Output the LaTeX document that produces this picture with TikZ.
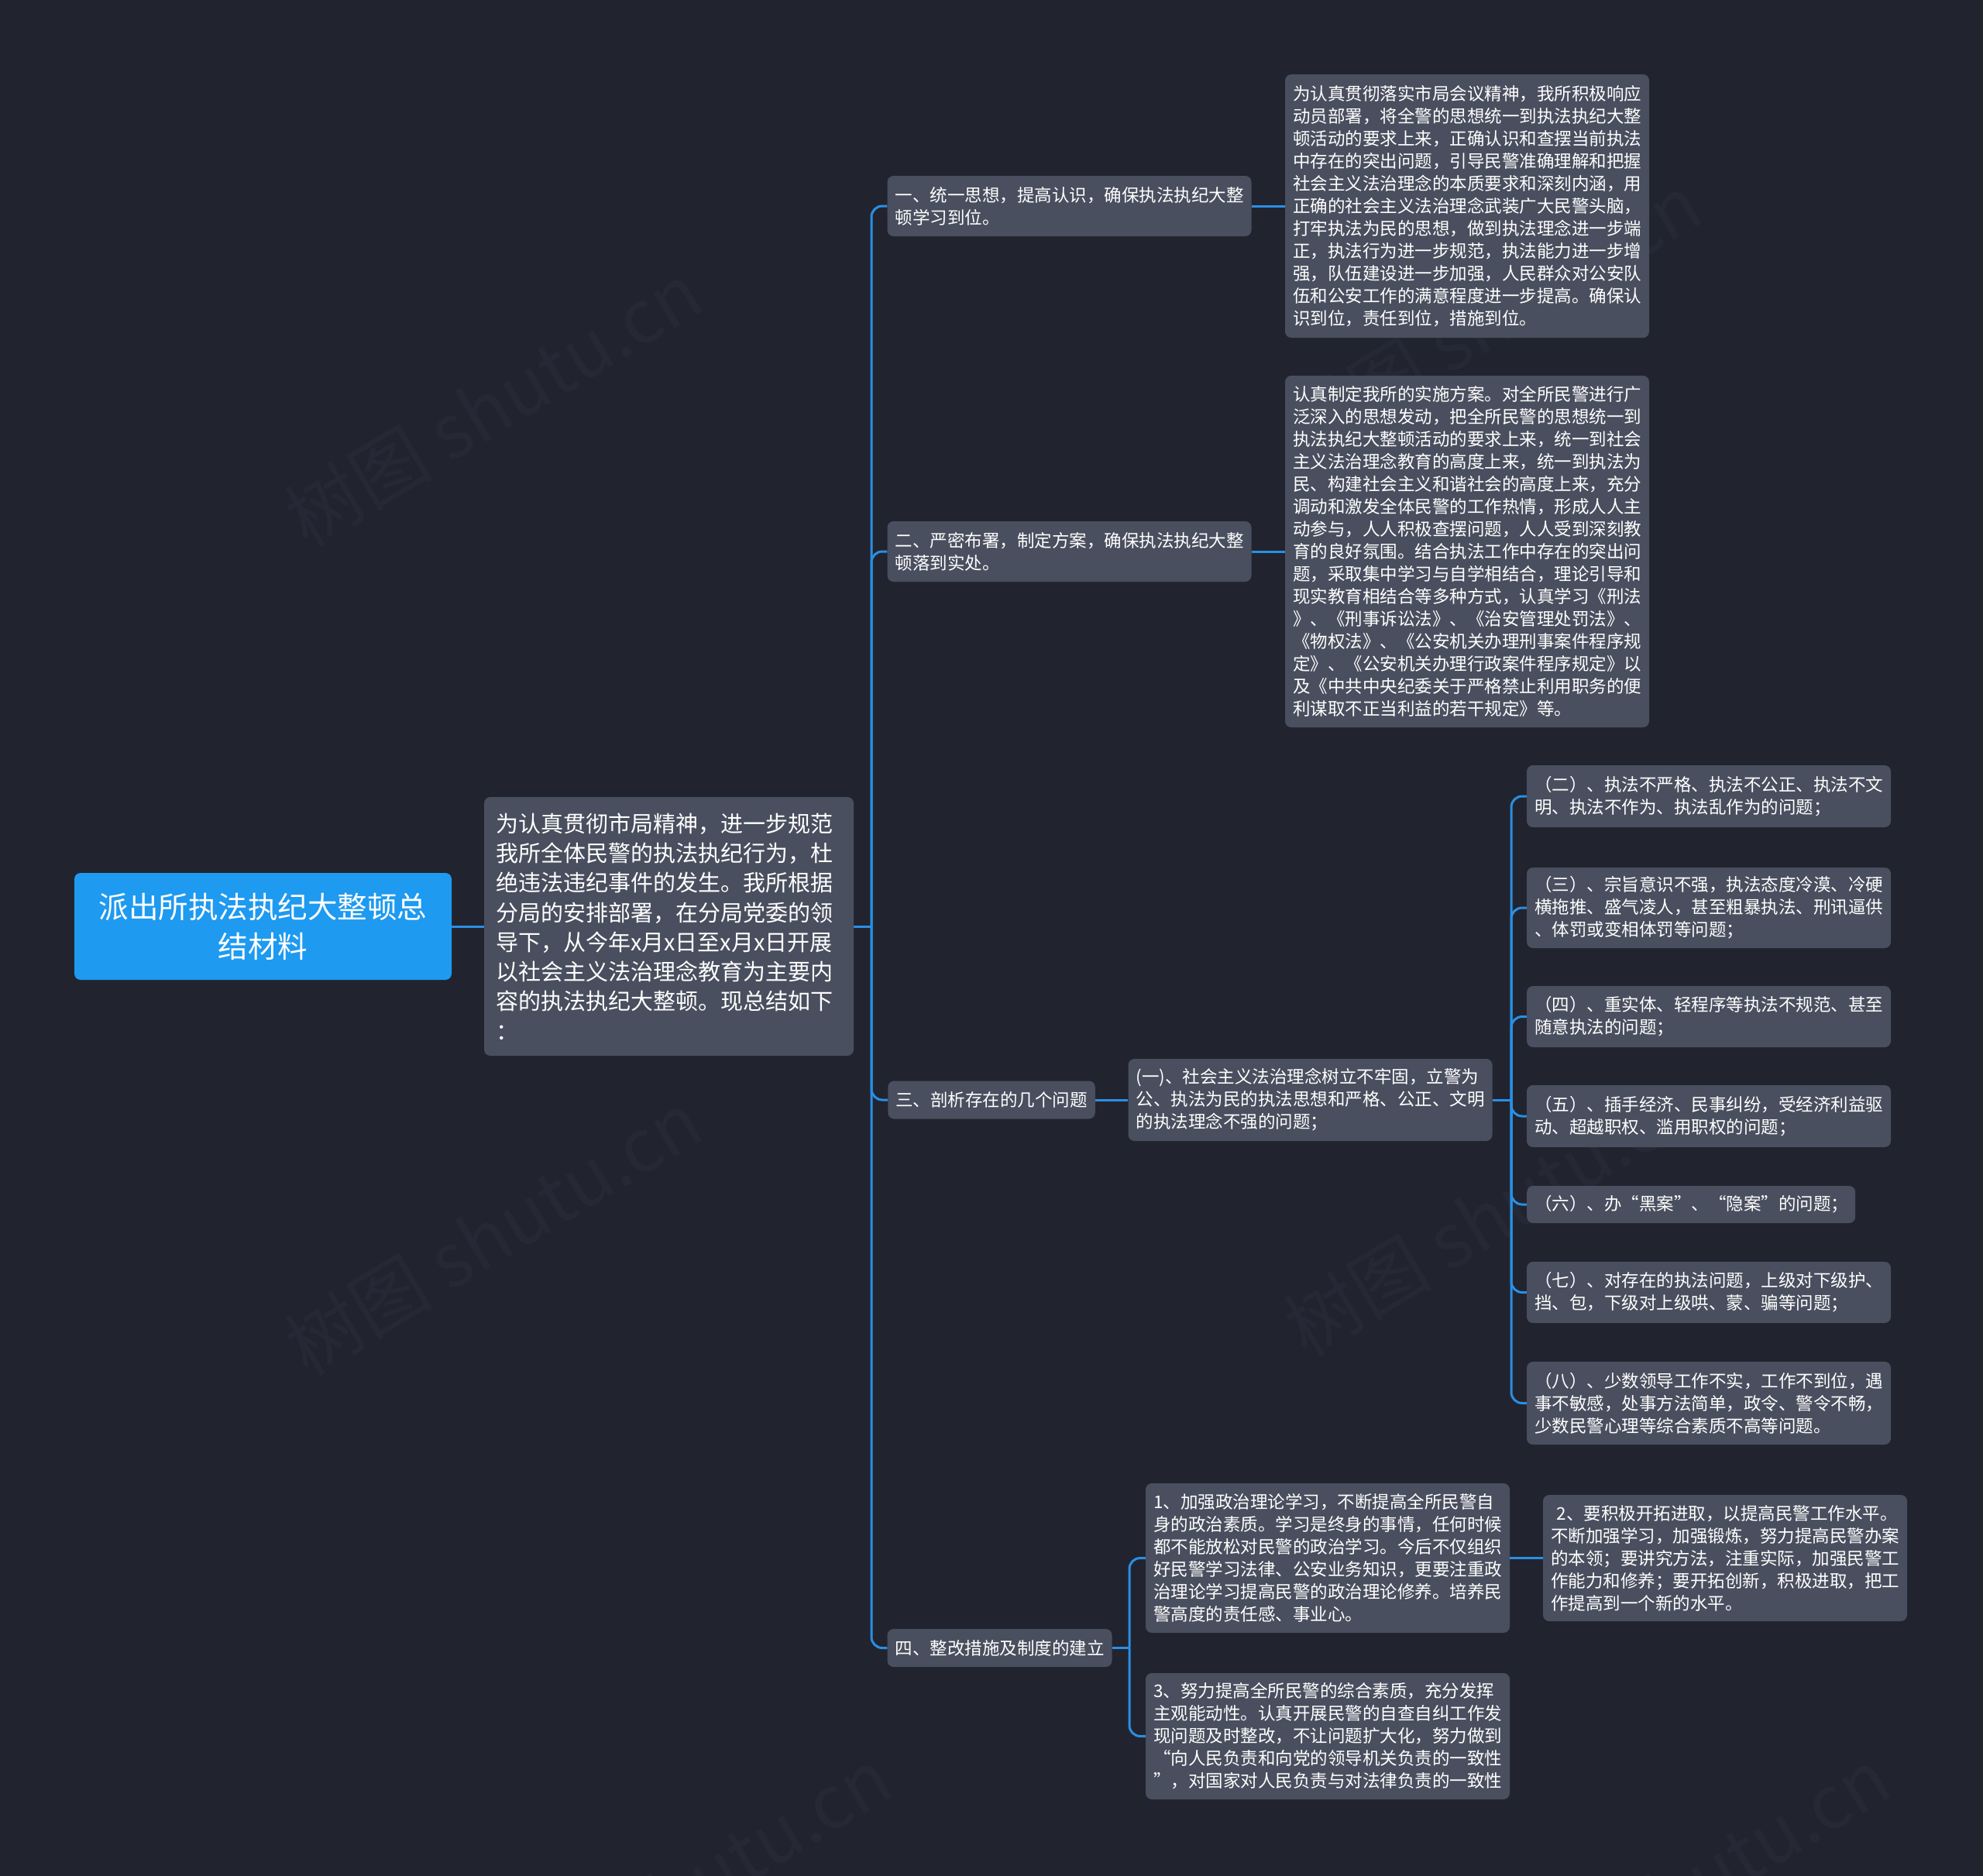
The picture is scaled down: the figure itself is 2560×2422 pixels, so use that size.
\documentclass[tikz,border=0pt]{standalone}
\usepackage{fontspec}
\setmainfont{Noto Sans CJK SC}
\definecolor{bg}{HTML}{21242F}
\definecolor{nodefill}{HTML}{494F5E}
\definecolor{rootfill}{HTML}{1E9AF0}
\definecolor{link}{HTML}{2A8FE4}
\definecolor{wm}{HTML}{262935}
\tikzset{
  box/.style={fill=nodefill, rounded corners=8pt, text=white, align=left, inner xsep=10pt, inner ysep=0pt, font=\fontsize{22.5}{29}\selectfont},
  wide/.style={box, text width=450pt},
  conn/.style={draw=link, line width=3pt, rounded corners=14pt},
  wmark/.style={text=wm, font=\fontsize{96}{100}\selectfont, rotate=31},
}
\begin{document}
\begin{tikzpicture}[x=1pt,y=-1pt]
\fill[bg] (0,0) rectangle (2560,2422);
\useasboundingbox (0,0) rectangle (2560,2422);
% watermarks
\node[wmark] (w1) at (637,522) {树图 shutu.cn};
\node[wmark] (w2) at (637,1592) {树图 shutu.cn};
\node[wmark] (w3) at (1927,408) {树图 shutu.cn};
\node[wmark] (w4) at (1927,1567) {树图 shutu.cn};
\node[wmark] (w5) at (882,2440) {树图 shutu.cn};
\node[wmark] (w6) at (2171,2440) {树图 shutu.cn};
% nodes
\node[box, fill=rootfill, text width=467pt, align=center, minimum height=138pt, font=\fontsize{38.5}{51}\selectfont] (root) at (339.5,1196) {派出所执法执纪大整顿总\\结材料};
\node[box, text width=447pt, inner xsep=15pt, minimum height=334pt, font=\fontsize{29}{38.3}\selectfont] (intro) at (863.5,1196) {为认真贯彻市局精神，进一步规范\\我所全体民警的执法执纪行为，杜\\绝违法违纪事件的发生。我所根据\\分局的安排部署，在分局党委的领\\导下，从今年x月x日至x月x日开展\\以社会主义法治理念教育为主要内\\容的执法执纪大整顿。现总结如下\\：};
\node[wide, minimum height=78pt] (l1a) at (1380.5,266) {一、统一思想，提高认识，确保执法执纪大整\\顿学习到位。};
\node[wide, minimum height=340pt] (d1) at (1894,266) {为认真贯彻落实市局会议精神，我所积极响应\\动员部署，将全警的思想统一到执法执纪大整\\顿活动的要求上来，正确认识和查摆当前执法\\中存在的突出问题，引导民警准确理解和把握\\社会主义法治理念的本质要求和深刻内涵，用\\正确的社会主义法治理念武装广大民警头脑，\\打牢执法为民的思想，做到执法理念进一步端\\正，执法行为进一步规范，执法能力进一步增\\强，队伍建设进一步加强，人民群众对公安队\\伍和公安工作的满意程度进一步提高。确保认\\识到位，责任到位，措施到位。};
\node[wide, minimum height=78pt] (l1b) at (1380.5,712) {二、严密布署，制定方案，确保执法执纪大整\\顿落到实处。};
\node[wide, minimum height=454pt] (d2) at (1894,712) {认真制定我所的实施方案。对全所民警进行广\\泛深入的思想发动，把全所民警的思想统一到\\执法执纪大整顿活动的要求上来，统一到社会\\主义法治理念教育的高度上来，统一到执法为\\民、构建社会主义和谐社会的高度上来，充分\\调动和激发全体民警的工作热情，形成人人主\\动参与，人人积极查摆问题，人人受到深刻教\\育的良好氛围。结合执法工作中存在的突出问\\题，采取集中学习与自学相结合，理论引导和\\现实教育相结合等多种方式，认真学习《刑法\\》、《刑事诉讼法》、《治安管理处罚法》、\\《物权法》、《公安机关办理刑事案件程序规\\定》、《公安机关办理行政案件程序规定》以\\及《中共中央纪委关于严格禁止利用职务的便\\利谋取不正当利益的若干规定》等。};
\node[box, minimum height=49pt] (l1c) at (1280,1420) {三、剖析存在的几个问题};
\node[wide, minimum height=106pt] (s1) at (1691.5,1420) {(一)、社会主义法治理念树立不牢固，立警为\\公、执法为民的执法思想和严格、公正、文明\\的执法理念不强的问题；};
\node[wide, minimum height=80pt] (i2) at (2206,1028) {（二）、执法不严格、执法不公正、执法不文\\明、执法不作为、执法乱作为的问题；};
\node[wide, minimum height=104pt] (i3) at (2206,1172) {（三）、宗旨意识不强，执法态度冷漠、冷硬\\横拖推、盛气凌人，甚至粗暴执法、刑讯逼供\\、体罚或变相体罚等问题；};
\node[wide, minimum height=79pt] (i4) at (2206,1312.5) {（四）、重实体、轻程序等执法不规范、甚至\\随意执法的问题；};
\node[wide, minimum height=80pt] (i5) at (2206,1441) {（五）、插手经济、民事纠纷，受经济利益驱\\动、超越职权、滥用职权的问题；};
\node[box, text width=404pt, minimum height=48pt, anchor=west] (i6) at (1971,1555) {（六）、办“黑案”、“隐案”的问题；};
\node[wide, minimum height=79pt] (i7) at (2206,1668.5) {（七）、对存在的执法问题，上级对下级护、\\挡、包，下级对上级哄、蒙、骗等问题；};
\node[wide, minimum height=107pt] (i8) at (2206,1811.5) {（八）、少数领导工作不实，工作不到位，遇\\事不敏感，处事方法简单，政令、警令不畅，\\少数民警心理等综合素质不高等问题。};
\node[box, minimum height=49pt] (l1d) at (1290.5,2127.5) {四、整改措施及制度的建立};
\node[wide, minimum height=193pt] (r1) at (1714,2011.5) {1、加强政治理论学习，不断提高全所民警自\\身的政治素质。学习是终身的事情，任何时候\\都不能放松对民警的政治学习。今后不仅组织\\好民警学习法律、公安业务知识，更要注重政\\治理论学习提高民警的政治理论修养。培养民\\警高度的责任感、事业心。};
\node[wide, minimum height=163pt] (r2) at (2227,2011.5) {~2、要积极开拓进取，以提高民警工作水平。\\不断加强学习，加强锻炼，努力提高民警办案\\的本领；要讲究方法，注重实际，加强民警工\\作能力和修养；要开拓创新，积极进取，把工\\作提高到一个新的水平。};
\node[wide, minimum height=163pt] (r3) at (1714,2241.5) {3、努力提高全所民警的综合素质，充分发挥\\主观能动性。认真开展民警的自查自纠工作发\\现问题及时整改，不让问题扩大化，努力做到\\“向人民负责和向党的领导机关负责的一致性\\”，对国家对人民负责与对法律负责的一致性};
% junction points
\coordinate (t1) at (1125,1196);
\coordinate (t2) at (1951,1420);
\coordinate (t3) at (1458,2127.5);
% connectors
\draw[conn] (root.east) -- (intro.west);
\draw[conn] (intro.east) -- (t1);
\draw[conn] (t1) |- (l1a.west);
\draw[conn] (t1) |- (l1b.west);
\draw[conn] (t1) |- (l1c.west);
\draw[conn] (t1) |- (l1d.west);
\draw[conn] (l1a.east) -- (d1.west);
\draw[conn] (l1b.east) -- (d2.west);
\draw[conn] (l1c.east) -- (s1.west);
\draw[conn] (s1.east) -- (t2);
\draw[conn] (t2) |- (i2.west);
\draw[conn] (t2) |- (i3.west);
\draw[conn] (t2) |- (i4.west);
\draw[conn] (t2) |- (i5.west);
\draw[conn] (t2) |- (i6.west);
\draw[conn] (t2) |- (i7.west);
\draw[conn] (t2) |- (i8.west);
\draw[conn] (l1d.east) -- (t3);
\draw[conn] (t3) |- (r1.west);
\draw[conn] (t3) |- (r3.west);
\draw[conn] (r1.east) -- (r2.west);
\end{tikzpicture}
\end{document}
